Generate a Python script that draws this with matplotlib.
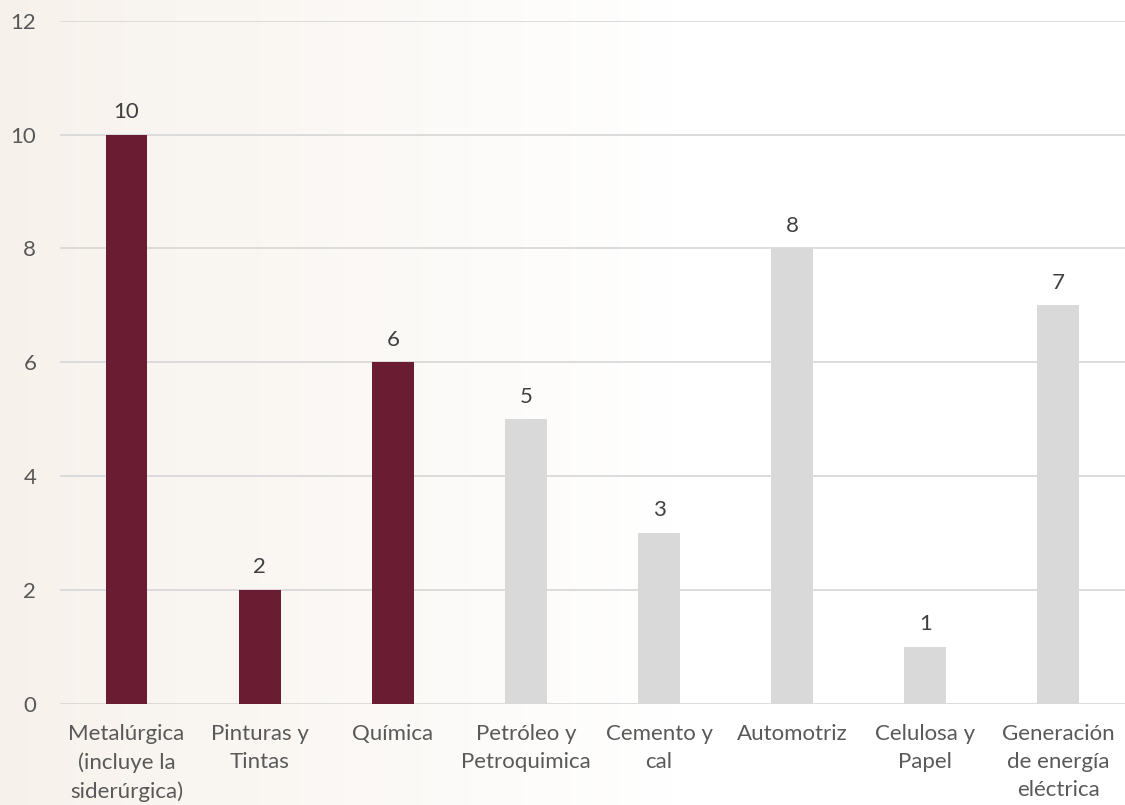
import numpy as np
import matplotlib.pyplot as plt

categories = ["Metalúrgica\n(incluye la\nsiderúrgica)", "Pinturas y\nTintas", "Química",
              "Petróleo y\nPetroquimica", "Cemento y\ncal", "Automotriz",
              "Celulosa y\nPapel", "Generación\nde energía\neléctrica"]
values = [10, 2, 6, 5, 3, 8, 1, 7]
highlight = [True, True, True, False, False, False, False, False]

maroon = "#691C32"
grey = "#D9D9D9"
text_color = "#595959"

plt.rcParams['font.family'] = ['Lato', 'DejaVu Sans']

fig = plt.figure(figsize=(11.25, 8.05), dpi=100)

# faint beige wash on the left, fading to white (stands in for the watermark)
bg = fig.add_axes([0, 0, 1, 1], zorder=-1)
grad = np.linspace(0, 1, 256)
alpha = np.clip(1.0 - grad / 0.6, 0, 1)
img = np.ones((1, 256, 4))
img[..., 0] = 0.965
img[..., 1] = 0.945
img[..., 2] = 0.915
img[..., 3] = alpha * 0.9
bg.imshow(img, aspect='auto', extent=[0, 1, 0, 1])
bg.axis('off')

ax = fig.add_axes([0.0533, 0.126, 0.9467, 0.848])
ax.patch.set_alpha(0)

x = np.arange(len(values))
colors = [maroon if h else grey for h in highlight]
bars = ax.bar(x, values, width=0.315, color=colors, zorder=3)

for xi, v in zip(x, values):
    ax.annotate(str(v), (xi, v), textcoords="offset points", xytext=(0, 9),
                ha='center', va='bottom', fontsize=16, color="#404040")

ax.set_ylim(0, 12)
ax.set_xlim(-0.5, len(values) - 0.5)
ax.set_yticks(range(0, 13, 2))
ax.set_xticks(x)
ax.set_xticklabels(categories, fontsize=16, color=text_color, linespacing=1.5)
ax.tick_params(axis='y', labelsize=16, labelcolor=text_color, length=0, pad=17)
ax.tick_params(axis='x', length=0, pad=15)
ax.grid(axis='y', color="#D9D9D9", linewidth=1.3, zorder=0)
for s in ax.spines.values():
    s.set_visible(False)

fig.savefig("out.png", dpi=100)
